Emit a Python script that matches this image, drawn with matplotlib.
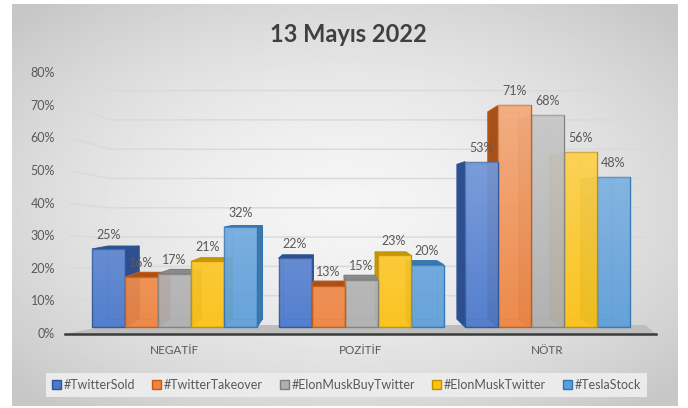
import numpy as np
import matplotlib
matplotlib.use('Agg')
import matplotlib.pyplot as plt
from matplotlib.patches import Polygon, Patch

plt.rcParams['font.family'] = ['Lato', 'DejaVu Sans']

# data (percent)
categories = ['NEGATİF', 'POZİTİF', 'NÖTR']
series_names = ['#TwitterSold', '#TwitterTakeover', '#ElonMuskBuyTwitter',
                '#ElonMuskTwitter', '#TeslaStock']
twitter_sold = [25, 22, 53]
twitter_takeover = [16, 13, 71]
elon_buy_twitter = [17, 15, 68]
elon_musk_twitter = [21, 23, 56]
tesla_stock = [32, 20, 48]
y_ticks = [0, 10, 20, 30, 40, 50, 60, 70, 80]

all_series = [twitter_sold, twitter_takeover, elon_buy_twitter,
              elon_musk_twitter, tesla_stock]

# styles: front face, side face, edge
face_cols = ['#4a78cc', '#ee8440', '#afafaf', '#fcc214', '#5d9ed9']
side_cols = ['#2e4f8f', '#a8501a', '#8a8a8a', '#c99a00', '#3f77a8']
edge_cols = ['#2f5597', '#c55a11', '#7f7f7f', '#bf9000', '#2e75b6']

# layout (pixels of the 688x408 picture)
W, H = 688, 408
BAR_PX = 33.0          # width of one bar
FIRST_PX = 108.5       # centre of the first bar
BASE_PX = 327.0        # bar baseline
PX_PER_PCT = 3.12
GROUP_STEP = 186.5 / BAR_PX


def X(px):
    return (px - FIRST_PX) / BAR_PX


def Y(py):
    return (BASE_PX - py) / PX_PER_PCT


fig = plt.figure(figsize=(W / 100, H / 100), dpi=100)
fig.patch.set_facecolor('white')
ax = fig.add_axes([0, 0, 1, 1])
ax.set_xlim(X(0), X(W))
ax.set_ylim(Y(H), Y(0))
ax.axis('off')

# chart background: radial grey gradient
gx, gy = np.meshgrid(np.linspace(-1, 1, 300), np.linspace(-1, 1, 200))
r = np.clip(np.sqrt(gx ** 2 + gy ** 2) / 1.35, 0, 1)
shade = 0.96 - 0.18 * r ** 1.6
ax.imshow(shade, cmap='gray', vmin=0, vmax=1, aspect='auto',
          extent=(X(12), X(678), Y(406), Y(4)), zorder=0, interpolation='bilinear')

# back wall gridlines (front-left -> back-left -> right)
for v in y_ticks[1:]:
    fy = 334 - v * 3.2625
    by = 325 - v * 2.93
    ax.plot([X(70), X(110), X(645)], [Y(fy), Y(by), Y(by)],
            color='#d9d9d9', lw=1.0, zorder=1)
for v in y_ticks:
    ax.text(X(55), Y(334 - v * 3.2625), f'{v}%', ha='right', va='center',
            fontsize=9, color='#595959', zorder=2)

# floor
floor = Polygon([(X(65), Y(334)), (X(656), Y(334)), (X(645), Y(325)), (X(110), Y(325))],
                closed=True, facecolor='#bdbdbd', edgecolor='none', zorder=1)
ax.add_patch(floor)
ax.plot([X(65), X(656)], [Y(334), Y(334)], color='#3b3b3b', lw=1.8, zorder=2)

# perspective helpers
VX, VY, F = X(341), Y(204), 0.065


def back(x, y):
    return (x + F * (VX - x), y + F * (VY - y))


n_series = len(all_series)
group_x = np.arange(len(categories)) * GROUP_STEP
bars = []
for si, vals in enumerate(all_series):
    xs = group_x + si
    cont = ax.bar(xs, vals, width=1.0, color=face_cols[si], alpha=0.93,
                  edgecolor=edge_cols[si], linewidth=1.0)
    for gi, p in enumerate(cont.patches):
        p.set_edgecolor(edge_cols[si])
        bars.append((abs(xs[gi] - VX), si, xs[gi], vals[gi], p))

bars.sort(key=lambda b: -b[0])
for rank, (_, si, xc, val, patch) in enumerate(bars):
    z = 3 + rank * 0.1
    xl, xr, t = xc - 0.5, xc + 0.5, val
    # hidden back edges seen through the bar
    bl0, br0, brt, blt = back(xl, 0), back(xr, 0), back(xr, t), back(xl, t)
    ax.plot([bl0[0], br0[0], brt[0], blt[0], bl0[0]],
            [bl0[1], br0[1], brt[1], blt[1], bl0[1]],
            color=edge_cols[si], lw=0.6, alpha=0.6, zorder=z)
    if xr < VX:
        side = [(xr, 0), (xr, t), brt, br0]
    elif xl > VX:
        side = [(xl, 0), (xl, t), blt, bl0]
    else:
        side = None
    if side is not None:
        ax.add_patch(Polygon(side, closed=True, facecolor=side_cols[si],
                             edgecolor=edge_cols[si], lw=0.8, zorder=z + 0.01))
    if t < VY:
        top = [(xl, t), (xr, t), brt, blt]
        ax.add_patch(Polygon(top, closed=True, facecolor=side_cols[si],
                             edgecolor=edge_cols[si], lw=0.8, zorder=z + 0.02))
    patch.set_zorder(z + 0.03)
    # light from above: bars get paler with height
    hh = np.linspace(t, 0, 60)[:, None]
    light = np.ones((60, 1, 4))
    light[..., 3] = np.clip(hh / 75.0, 0, 1) * 0.32
    im = ax.imshow(light, aspect='auto', extent=(xl, xr, 0, t),
                   zorder=z + 0.035, interpolation='bilinear')
    im.set_clip_path(patch)
    ax.text(xc, val + 14 / PX_PER_PCT, f'{val}%', ha='center', va='center',
            fontsize=9, color='#595959', zorder=10)

ax.set_xlim(X(0), X(W))
ax.set_ylim(Y(H), Y(0))

# category labels
for gi, cat in enumerate(categories):
    ax.text(group_x[gi] + (n_series - 1) / 2, Y(351), cat, ha='center', va='center',
            fontsize=8.5, color='#595959', zorder=2)

# title
ax.text(X(348), Y(34), '13 Mayıs 2022', ha='center', va='center', fontsize=17,
        fontweight='bold', color='#404040', zorder=2)

# legend
handles = [Patch(facecolor=face_cols[i], edgecolor=edge_cols[i], label=series_names[i])
           for i in range(n_series)]
leg = ax.legend(handles=handles, loc='center', ncol=5, mode='expand',
                bbox_to_anchor=(46 / W, 1 - 398 / H, 601 / W, 26 / H),
                fontsize=9, frameon=True, fancybox=False, facecolor='#ebebeb',
                edgecolor='none', framealpha=1, handlelength=0.7, handleheight=0.7,
                handletextpad=0.2, borderaxespad=0, borderpad=0.5)
for txt in leg.get_texts():
    txt.set_color('#595959')

fig.savefig('out.png', dpi=100, facecolor='white')
